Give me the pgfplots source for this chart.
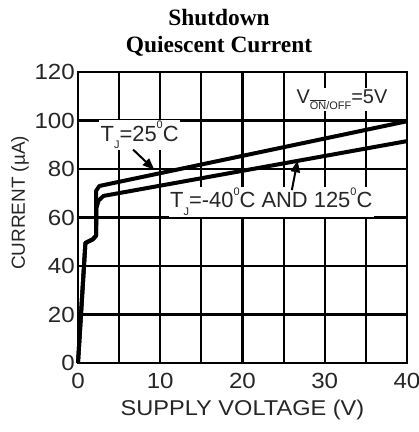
\documentclass[border=0pt]{standalone}
\usepackage{fontspec}
\setmainfont{Liberation Sans}
\newfontfamily\wide{Liberation Sans}[FakeStretch=1.1]
\newfontfamily\titlefont{Liberation Serif}
\usepackage{pgfplots}
\pgfplotsset{compat=1.18}
\usetikzlibrary{arrows.meta}
\begin{document}
\begin{tikzpicture}
\useasboundingbox (-78bp,-69bp) rectangle (341bp,363bp);
\begin{axis}[
  at={(0,0)}, anchor=south west,
  scale only axis, width=329bp, height=291bp,
  xmin=0, xmax=40, ymin=0, ymax=120,
  xtick={0,10,20,30,40}, minor xtick={5,15,25,35},
  ytick={0,20,40,60,80,100,120},
  grid=both,
  major grid style={black, line width=2.2bp},
  minor grid style={black, line width=2.2bp},
  axis line style={black, line width=2.4bp},
  major tick length=0pt, minor tick length=0pt,
  /pgf/number format/assume math mode=true,
  ticklabel style={font=\wide\fontsize{22}{24}\selectfont, text=black!85, inner sep=1bp},
  xticklabel style={yshift=-9bp},
  yticklabel style={xshift=-2bp},
  xlabel={SUPPLY VOLTAGE (V)},
  ylabel={CURRENT (\textmu A)},
  xlabel style={font=\wide\fontsize{21.5}{24}\selectfont, text=black!85, at={(0.5,0)}, anchor=base, yshift=-52bp},
  ylabel style={font=\fontsize{19}{21}\selectfont, text=black!85, at={(0,0.55)}, anchor=center, yshift=58bp},
  clip=false,
]
\addplot[black, line width=4bp, line join=round] coordinates {
 (0,0) (0.9,49.5) (1.8,51) (2.2,52.5) (2.2,71) (2.6,73) (40,99.7)
};
\addplot[black, line width=4bp, line join=round] coordinates {
 (0,0) (0.9,49.5) (1.8,51) (2.2,52.5) (2.25,64) (2.5,67) (3.1,68.9) (40,91.5)
};
\node[fill=white, inner sep=1.5bp, font=\fontsize{20}{22}\selectfont, text=black!85] at (axis cs:32.1,108.5)
  {V\raisebox{-0.3em}{\fontsize{11}{11}\selectfont$\overline{\mbox{ON}}$/OFF}=5V};
\node[fill=white, inner sep=1.5bp, font=\fontsize{22}{24}\selectfont, text=black!85] at (axis cs:7.5,94)
  {T\raisebox{-0.35em}{\fontsize{11}{11}\selectfont J}=25\raisebox{0.55em}{\fontsize{11}{11}\selectfont 0}C};
\node[fill=white, inner sep=1.5bp, font=\fontsize{22}{24}\selectfont, text=black!85] at (axis cs:23.5,66.4)
  {T\raisebox{-0.35em}{\fontsize{11}{11}\selectfont J}=-40\raisebox{0.55em}{\fontsize{11}{11}\selectfont 0}C AND 125\raisebox{0.55em}{\fontsize{11}{11}\selectfont 0}C};
\draw[-{Triangle[length=12bp,width=9bp]}, line width=2bp] (axis cs:6.7,88) -- (axis cs:9.3,79.6);
\draw[-{Triangle[length=12bp,width=9bp]}, line width=2bp] (axis cs:26.0,71.3) -- (axis cs:26.7,83.6);
\node[font=\titlefont\bfseries\fontsize{23.5}{26}\selectfont, anchor=base] at ([yshift=46bp]rel axis cs:0.4286,1) {Shutdown};
\node[font=\titlefont\bfseries\fontsize{23.5}{26}\selectfont, anchor=base] at ([yshift=19bp]rel axis cs:0.4286,1) {Quiescent Current};
\end{axis}
\end{tikzpicture}
\end{document}
